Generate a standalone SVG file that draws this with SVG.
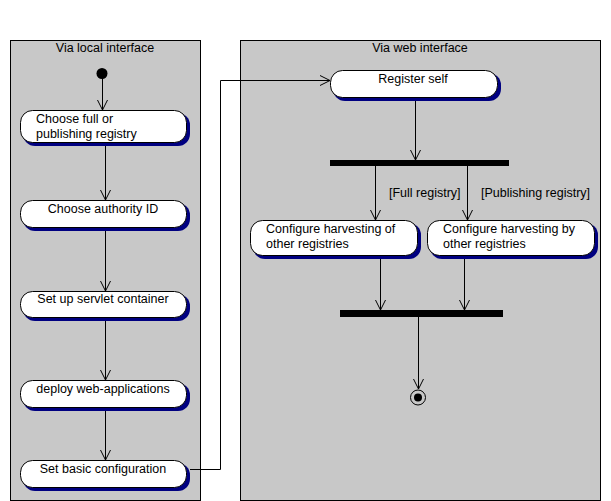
<svg xmlns="http://www.w3.org/2000/svg" width="611" height="501" viewBox="0 0 611 501">
  <style>
    .lane { fill: #c8c8c8; stroke: #000; stroke-width: 1; }
    .shadow { fill: #000080; }
    .act { fill: #fff; stroke: #000; stroke-width: 1; }
    .bar { fill: #000; }
    .edge { fill: none; stroke: #000; stroke-width: 1; marker-end: url(#open); }
    text { font-family: "Liberation Sans", Arial, sans-serif; font-size: 12.5px; fill: #000; }
    .c { text-anchor: middle; }
  </style>
  <defs>
    <marker id="open" markerUnits="userSpaceOnUse" markerWidth="12" markerHeight="12" viewBox="0 0 12 12" refX="10" refY="6" orient="auto">
      <path d="M0,1 L10,6 L0,11" fill="none" stroke="#000" stroke-width="1"/>
    </marker>
  </defs>

  <rect width="611" height="501" fill="#fff"/>

  <!-- swimlanes -->
  <g id="lane-local">
    <rect class="lane" x="10.5" y="40.5" width="190" height="460"/>
    <text class="c" x="105" y="52">Via local interface</text>
  </g>
  <g id="lane-web">
    <rect class="lane" x="240.5" y="40.5" width="360" height="460"/>
    <text class="c" x="420" y="52">Via web interface</text>
  </g>

  <!-- connectors -->
  <g id="connectors">
    <path class="edge" d="M102.5,78 L102.5,110"/>
    <path class="edge" d="M105.5,144 L105.5,200"/>
    <path class="edge" d="M105.5,228 L105.5,291"/>
    <path class="edge" d="M105.5,318 L105.5,380"/>
    <path class="edge" d="M105.5,409 L105.5,460"/>
    <path class="edge" d="M190,469.5 L220.5,469.5 L220.5,80.5 L330,80.5"/>
    <path class="edge" d="M415.5,99 L415.5,160"/>
    <path class="edge" d="M375.5,166 L375.5,220"/>
    <path class="edge" d="M467.5,166 L467.5,220"/>
    <path class="edge" d="M380.5,257 L380.5,310"/>
    <path class="edge" d="M464.5,257 L464.5,310"/>
    <path class="edge" d="M418.5,317 L418.5,389"/>
    <text x="389" y="197">[Full registry]</text>
    <text x="481" y="197">[Publishing registry]</text>
  </g>

  <!-- initial state -->
  <g id="start">
    <circle cx="102" cy="73.5" r="5.5" fill="#000"/>
  </g>

  <g id="choose-registry">
    <rect class="shadow" x="23" y="113" width="167" height="33" rx="12"/>
    <rect class="act" x="20.5" y="110.5" width="166" height="32" rx="12"/>
    <text x="36" y="123">Choose full or</text>
    <text x="36" y="138">publishing registry</text>
  </g>

  <g id="choose-authority">
    <rect class="shadow" x="23" y="203" width="167" height="28" rx="12"/>
    <rect class="act" x="20.5" y="200.5" width="166" height="27" rx="12"/>
    <text class="c" x="103" y="213">Choose authority ID</text>
  </g>

  <g id="servlet-container">
    <rect class="shadow" x="23" y="294" width="167" height="27" rx="12"/>
    <rect class="act" x="20.5" y="291.5" width="166" height="26" rx="12"/>
    <text class="c" x="103" y="303">Set up servlet container</text>
  </g>

  <g id="deploy-webapps">
    <rect class="shadow" x="23" y="383" width="167" height="28" rx="12"/>
    <rect class="act" x="20.5" y="380.5" width="166" height="27" rx="12"/>
    <text class="c" x="103" y="393">deploy web-applications</text>
  </g>

  <g id="basic-config">
    <rect class="shadow" x="23" y="463" width="167" height="28" rx="12"/>
    <rect class="act" x="20.5" y="460.5" width="166" height="27" rx="12"/>
    <text class="c" x="103" y="473">Set basic configuration</text>
  </g>

  <g id="register-self">
    <rect class="shadow" x="333" y="73" width="168" height="28" rx="12"/>
    <rect class="act" x="330.5" y="70.5" width="167" height="27" rx="12"/>
    <text class="c" x="413" y="83">Register self</text>
  </g>

  <g id="fork">
    <rect class="bar" x="330" y="160" width="179" height="6"/>
  </g>

  <g id="harvest-of">
    <rect class="shadow" x="253" y="223" width="168" height="36" rx="12"/>
    <rect class="act" x="250.5" y="220.5" width="167" height="35" rx="12"/>
    <text x="266" y="233">Configure harvesting of</text>
    <text x="266" y="248">other registries</text>
  </g>

  <g id="harvest-by">
    <rect class="shadow" x="430" y="223" width="168" height="36" rx="12"/>
    <rect class="act" x="427.5" y="220.5" width="167" height="35" rx="12"/>
    <text x="443" y="233">Configure harvesting by</text>
    <text x="443" y="248">other registries</text>
  </g>

  <g id="join">
    <rect class="bar" x="340" y="310" width="163" height="7"/>
  </g>

  <g id="end">
    <circle cx="418" cy="397.5" r="7.5" fill="none" stroke="#000" stroke-width="1"/>
    <circle cx="418" cy="397.5" r="4" fill="#000"/>
  </g>
</svg>
